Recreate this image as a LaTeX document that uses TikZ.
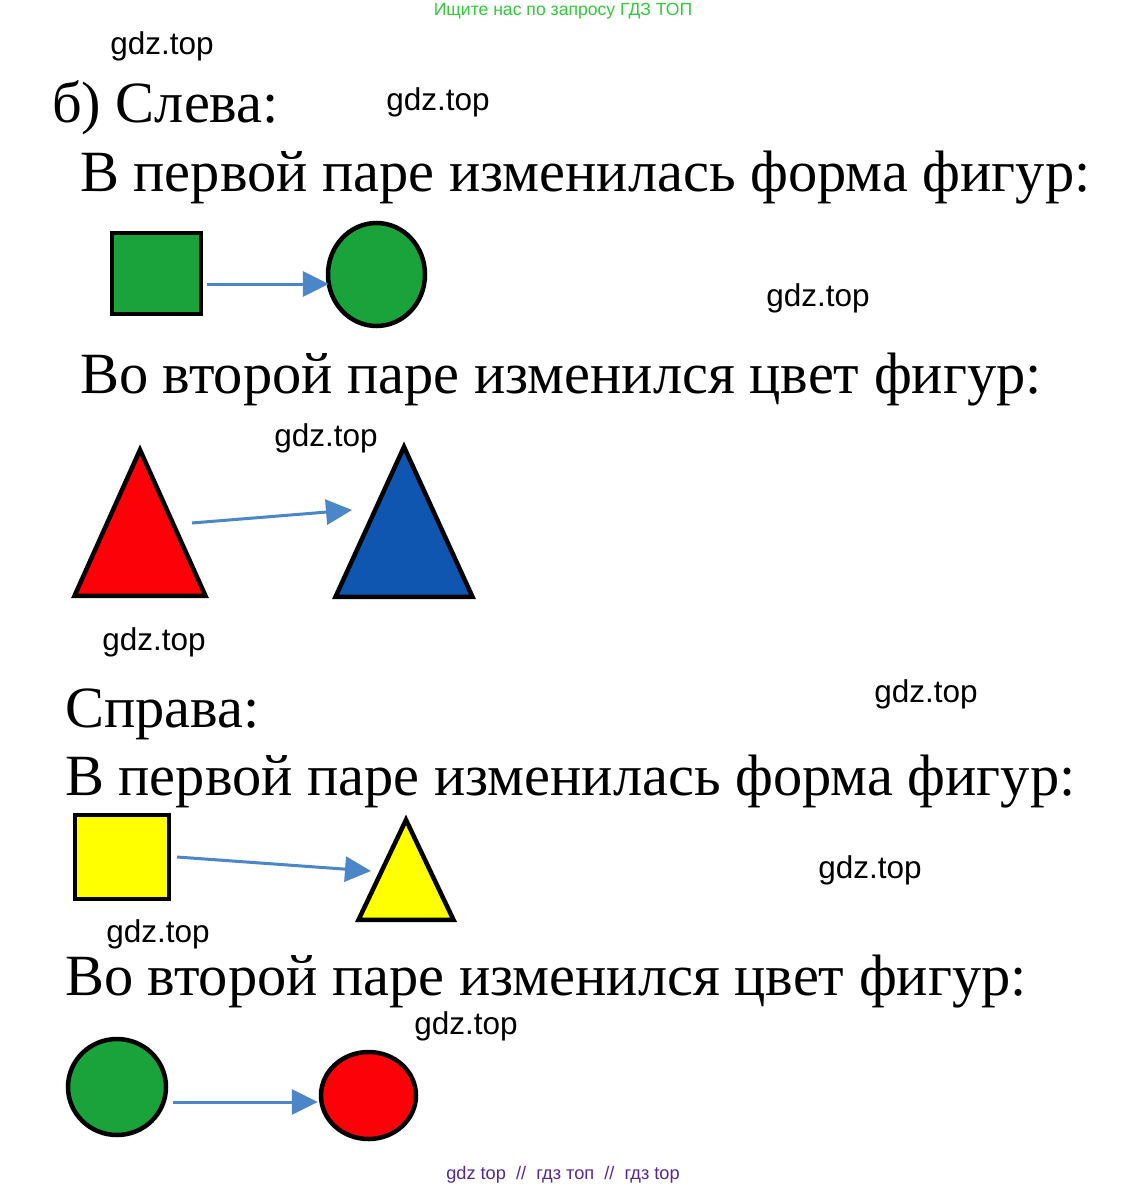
\documentclass[tikz,border=0pt]{standalone}
\usepackage{fontspec}
\setmainfont{Liberation Serif}
\newfontfamily\wmfont{Liberation Sans}
\usetikzlibrary{arrows.meta,shapes.geometric}
\definecolor{figgreen}{RGB}{26,163,59}
\definecolor{figred}{RGB}{252,2,8}
\definecolor{figblue}{RGB}{14,86,176}
\definecolor{figyellow}{RGB}{255,255,0}
\definecolor{arrblue}{RGB}{74,134,200}
\definecolor{topgreen}{RGB}{52,200,60}
\definecolor{botpurple}{RGB}{88,40,140}

\begin{document}
\begin{tikzpicture}[x=1pt, y=-1pt,
		fig/.style={draw=black, line width=4.5pt, inner sep=0pt},
		sqbox/.style={fig, rectangle},
		roundbox/.style={fig, ellipse},
		tribox/.style={fig, isosceles triangle, isosceles triangle stretches, shape border rotate=90, anchor=apex},
		arr/.style={draw=arrblue, line width=3pt, -{Triangle[length=26pt,width=25pt]}},
		big/.style={inner sep=0pt, anchor=base west, font=\fontsize{58.4}{60}\selectfont},
		wm/.style={inner sep=0pt, font=\wmfont\fontsize{31.5}{33}\selectfont}]
			%%%%% START %%%%%
			
			\useasboundingbox[fill=white] (0,0) rectangle (1129,1190);
			
			\node[inner sep=0pt, text=topgreen, font=\wmfont\fontsize{17.6}{18}\selectfont] (search) at (563,11) {Ищите нас по запросу ГДЗ ТОП};
			
			\node[big] (leftT) at (52,123) {б) Слева:};
			\node[big] (leftA) at (80,192) {В первой паре изменилась форма фигур:};
			\node[big] (leftB) at (80,393) {Во второй паре изменился цвет фигур:};
			\node[big] (rightT) at (65,727) {Справа:};
			\node[big] (rightA) at (65,795) {В первой паре изменилась форма фигур:};
			\node[big] (rightB) at (65,995) {Во второй паре изменился цвет фигур:};
			
			\node[wm] (wm1) at (162,46) {gdz.top};
			\node[wm] (wm2) at (438,102) {gdz.top};
			\node[wm] (wm3) at (818,298) {gdz.top};
			\node[wm] (wm4) at (326,438) {gdz.top};
			\node[wm] (wm5) at (154,642) {gdz.top};
			\node[wm] (wm6) at (926,694) {gdz.top};
			\node[wm] (wm7) at (870,870) {gdz.top};
			\node[wm] (wm8) at (158,934) {gdz.top};
			\node[wm] (wm9) at (466,1026) {gdz.top};
			
			% first pair, left
			\node[sqbox, fill=figgreen, minimum width=89pt, minimum height=81pt] (sqA) at (156.5,273.5) {};
			\node[roundbox, fill=figgreen, minimum width=97pt, minimum height=103pt] (circA) at (376.5,274.5) {};
			\draw[arr] ([xshift=3.5pt, yshift=-10.5pt]sqA.east) -- ([xshift=3pt, yshift=-9.5pt]circA.west);
			
			% second pair, left
			\node[tribox, fill=figred, minimum width=131pt, minimum height=146pt] (trR) at (140,444) {};
			\node[tribox, fill=figblue, minimum width=137pt, minimum height=150pt] (trB) at (404,441) {};
			\coordinate (a2s) at (192,523);
			\coordinate (a2e) at (352,510);
			\draw[arr] (a2s) -- (a2e);
			
			% first pair, right
			\node[sqbox, fill=figyellow, minimum width=94pt, minimum height=84pt] (sqY) at (122,857) {};
			\node[tribox, fill=figyellow, minimum width=95pt, minimum height=100pt] (trY) at (406,814) {};
			\coordinate (a3s) at (177,857);
			\coordinate (a3e) at (371,871);
			\draw[arr] (a3s) -- (a3e);
			
			% second pair, right
			\node[roundbox, fill=figgreen, minimum width=98pt, minimum height=96pt] (circG) at (117,1087) {};
			\node[roundbox, fill=figred, minimum width=95pt, minimum height=87pt] (circR) at (368.5,1095.5) {};
			\draw[arr] ([xshift=5pt, yshift=-15pt]circG.east) -- ([xshift=-1pt, yshift=-6.5pt]circR.west);
			
			\node[inner sep=0pt, text=botpurple, font=\wmfont\fontsize{18.2}{19}\selectfont] (footer) at (563,1175) {gdz top \ // \ гдз топ \ // \ гдз top};
			
			%%%%% END %%%%%
\end{tikzpicture}
\end{document}
